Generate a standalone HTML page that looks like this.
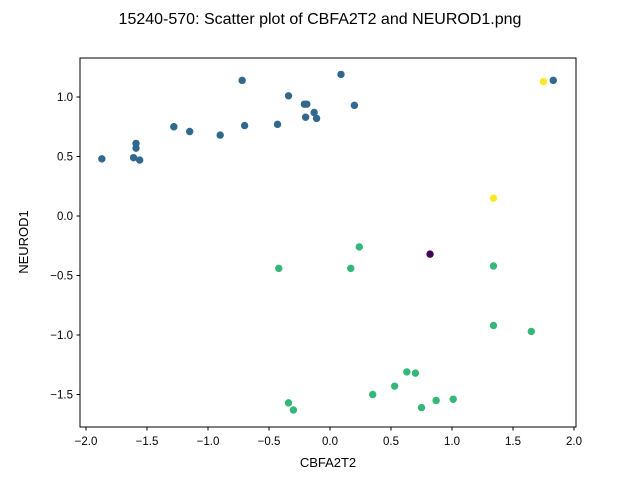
<!DOCTYPE html>
<html><head><meta charset="utf-8"><style>
body{margin:0;background:#fff;font-family:"Liberation Sans",sans-serif}
</style></head><body>
<svg id="chart" width="640" height="480" xmlns="http://www.w3.org/2000/svg" font-family="Liberation Sans, sans-serif">
<rect width="640" height="480" fill="#fff"/>
<text x="320" y="24" text-anchor="middle" font-size="16">15240-570: Scatter plot of CBFA2T2 and NEUROD1.png</text>
<g id="marks"></g>
<rect x="80" y="58" width="496" height="369" fill="none" stroke="#000" stroke-width="1"/>
<g id="xticks"></g><g id="yticks"></g>
<text x="328" y="467" text-anchor="middle" font-size="13">CBFA2T2</text>
<text transform="translate(28,242) rotate(-90)" text-anchor="middle" font-size="13">NEUROD1</text>
</svg>
<script>
const xVals=[-1.87,-1.61,-1.59,-1.59,-1.56,-1.28,-1.15,-0.90,-0.72,-0.70,-0.43,-0.34,-0.21,-0.19,-0.20,-0.13,-0.11,0.09,0.20,1.83,1.75,1.34,0.82,-0.42,0.17,0.24,1.34,1.34,1.65,0.63,0.70,0.53,0.35,1.01,0.87,0.75,-0.34,-0.30];
const yVals=[0.48,0.49,0.61,0.57,0.47,0.75,0.71,0.68,1.14,0.76,0.77,1.01,0.94,0.94,0.83,0.87,0.82,1.19,0.93,1.14,1.13,0.15,-0.32,-0.44,-0.44,-0.26,-0.42,-0.92,-0.97,-1.31,-1.32,-1.43,-1.50,-1.54,-1.55,-1.61,-1.57,-1.63];
const groups=[1,1,1,1,1,1,1,1,1,1,1,1,1,1,1,1,1,1,1,1,3,3,0,2,2,2,2,2,2,2,2,2,2,2,2,2,2,2];
const colors=["#440154","#31688e","#35b779","#fde725"];
const xTicks=[-2.0,-1.5,-1.0,-0.5,0.0,0.5,1.0,1.5,2.0];
const yTicks=[-1.5,-1.0,-0.5,0.0,0.5,1.0];
const sx=v=>330+v*122, sy=v=>216-v*119;
const NS="http://www.w3.org/2000/svg";
const marks=document.getElementById('marks');
xVals.forEach((x,i)=>{const c=document.createElementNS(NS,'circle');
c.setAttribute('cx',sx(x));c.setAttribute('cy',sy(yVals[i]));c.setAttribute('r',3.7);c.setAttribute('fill',colors[groups[i]]);


marks.appendChild(c);});
const xt=document.getElementById('xticks');
xTicks.forEach(t=>{const g=document.createElementNS(NS,'g');


g.innerHTML=`<line x1="${sx(t)}" x2="${sx(t)}" y1="427" y2="430.5" stroke="#000"/><text x="${sx(t)}" y="445" text-anchor="middle" font-size="11.5">${t.toFixed(1).replace('-','−')}</text>`;xt.appendChild(g);});
const yt=document.getElementById('yticks');
yTicks.forEach(t=>{const g=document.createElementNS(NS,'g');


g.innerHTML=`<line x1="76.5" x2="80" y1="${sy(t)}" y2="${sy(t)}" stroke="#000"/><text x="73" y="${sy(t)+4}" text-anchor="end" font-size="11.5">${t.toFixed(1).replace('-','−')}</text>`;yt.appendChild(g);});
</script>
</body></html>
